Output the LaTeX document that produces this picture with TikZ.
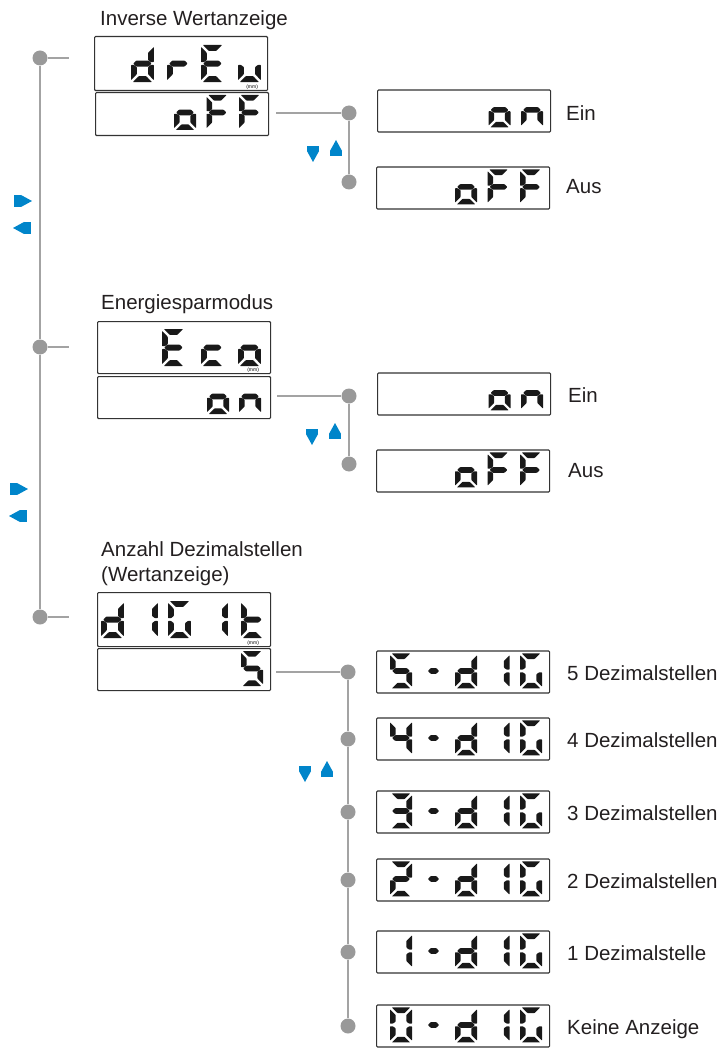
\documentclass[tikz,border=0pt]{standalone}
\usepackage{fontspec}
\setmainfont{Liberation Sans}
\usetikzlibrary{positioning}

\definecolor{linegray}{RGB}{163,163,163}
\definecolor{dotgray}{RGB}{153,153,153}
\definecolor{keyblue}{RGB}{0,133,202}
\definecolor{inkgray}{RGB}{35,31,32}

\tikzset{
  lcdbox/.style={draw=black!80, line width=1.1pt, rounded corners=1pt, inner sep=0pt, anchor=north west, minimum width=173pt},
  lcdseg/.style={fill=black!90, rounded corners=0.6pt},
  upchar/.style={xscale=1.04, yscale=1.06},
  conn/.style={draw=linegray, line width=1.6pt},
  dot/.style={circle, fill=dotgray, inner sep=0pt, minimum size=15pt},
  lbl/.style={font=\fontsize{20.5}{24}\selectfont, text=inkgray, inner sep=0pt, anchor=base west},
  mm/.style={font=\fontsize{5}{5}\selectfont, inner sep=0pt},
  keydown/.pic={\fill[keyblue] (0,0) rectangle (12,4.7); \fill[keyblue] (0,5.1) -- (12,5.1) -- (6,16) -- cycle;},
  keyup/.pic={\fill[keyblue] (6,0) -- (12,10.9) -- (0,10.9) -- cycle; \fill[keyblue] (0,11.3) rectangle (12,16);},
  keyright/.pic={\fill[keyblue] (0,0) rectangle (6.6,12); \fill[keyblue] (7,0) -- (18,6) -- (7,12) -- cycle;},
  keyleft/.pic={\fill[keyblue] (0,6) -- (11,0) -- (11,12) -- cycle; \fill[keyblue] (11.4,0) rectangle (18,12);}
}

% segments of one LCD digit, cell 22 x 35
\newcommand\lcdsega{\fill[lcdseg] (1.8,0) -- (20.2,0) -- (14.6,5.6) -- (7.4,5.6) -- cycle;}
\newcommand\lcdsegb{\fill[lcdseg] (22,1.8) -- (22,16.2) -- (19.2,16.2) -- (16.4,14.2) -- (16.4,7.4) -- cycle;}
\newcommand\lcdsegc{\fill[lcdseg] (22,18.8) -- (22,33.2) -- (16.4,27.6) -- (16.4,20.8) -- (19.2,18.8) -- cycle;}
\newcommand\lcdsegd{\fill[lcdseg] (1.8,35) -- (20.2,35) -- (14.6,29.4) -- (7.4,29.4) -- cycle;}
\newcommand\lcdsege{\fill[lcdseg] (0,18.8) -- (0,33.2) -- (5.6,27.6) -- (5.6,20.8) -- (2.8,18.8) -- cycle;}
\newcommand\lcdsegf{\fill[lcdseg] (0,1.8) -- (0,16.2) -- (2.8,16.2) -- (5.6,14.2) -- (5.6,7.4) -- cycle;}
\newcommand\lcdsegg{\fill[lcdseg] (2.2,17.5) -- (5,14.7) -- (17,14.7) -- (19.8,17.5) -- (17,20.3) -- (5,20.3) -- cycle;}
\newcommand\lcdsegm{\fill[lcdseg] (5.5,17.5) -- (8,14.7) -- (14,14.7) -- (16.5,17.5) -- (14,20.3) -- (8,20.3) -- cycle;}

% one LCD character: [options]{box corner}{offset}{segments}
\newcommand\lcdchar[4][]{%
  \edef\lcdsegs{#4}%
  \begin{scope}[shift={#2}, shift={#3}, #1]
    \foreach \s in \lcdsegs {\csname lcdseg\s\endcsname}
  \end{scope}}

\begin{document}
\begin{tikzpicture}[x=1pt, y=-1pt]
\useasboundingbox (0,0) rectangle (726,1048);

% main menu line
\node[dot] (m1) at (40,58) {};
\node[dot] (m2) at (40,347) {};
\node[dot] (m3) at (40,617) {};
\coordinate (s1) at (69,58);
\coordinate (s2) at (69,347);
\coordinate (s3) at (69,617);
\draw[conn] (m1) -- (m2) -- (m3);
\foreach \i in {1,2,3} \draw[conn] (m\i) -- (s\i);

\pic at (14,195) {keyright};
\pic at (13,222) {keyleft};
\pic at (10,483) {keyright};
\pic at (9,510) {keyleft};

% inverse value display
\node[lbl] (t1) at (100,26) {Inverse Wertanzeige};
\node[lcdbox, minimum height=54pt] (drev) at (94,36) {};
\node[lcdbox, minimum height=43pt] (drevv) at (95,92) {};
\lcdchar[upchar]{(drev.north west)}{(37,9)}{b,c,d,e,g}
\lcdchar[upchar]{(drev.north west)}{(73,9)}{e,g}
\lcdchar[upchar]{(drev.north west)}{(107,9)}{a,d,e,f,g}
\lcdchar[upchar]{(drev.north west)}{(144,9)}{c,d,e}
\node[mm] (mm1) at ([xshift=-16pt,yshift=3.5pt]drev.south east) {(mm)};
\lcdchar{(drevv.north west)}{(79,3)}{c,d,e,g}
\lcdchar{(drevv.north west)}{(111.5,3)}{a,e,f,g}
\lcdchar{(drevv.north west)}{(144,3)}{a,e,f,g}

\node[dot] (e11) at (349,113) {};
\node[dot] (e12) at (349,182) {};
\coordinate (c1) at (276,113);
\draw[conn] (c1) -- (e11) -- (e12);
\pic at (307,146) {keydown};
\pic at (330,140) {keyup};

\node[lcdbox, anchor=west, minimum height=42pt] (on1) at (377,111) {};
\lcdchar{(on1.north west)}{(111.5,3)}{c,d,e,g}
\lcdchar{(on1.north west)}{(144,3)}{c,e,g}
\node[lbl] (ein1) at (566,121) {Ein};
\node[lcdbox, anchor=west, minimum height=42pt] (off1) at (376,188) {};
\lcdchar{(off1.north west)}{(79,3)}{c,d,e,g}
\lcdchar{(off1.north west)}{(111.5,3)}{a,e,f,g}
\lcdchar{(off1.north west)}{(144,3)}{a,e,f,g}
\node[lbl] (aus1) at (566,194) {Aus};

% energy saving mode
\node[lbl] (t2) at (101,309) {Energiesparmodus};
\node[lcdbox, minimum height=52pt] (eco) at (97,321) {};
\node[lcdbox, minimum height=42pt] (ecov) at (97,376) {};
\lcdchar[upchar]{(eco.north west)}{(65,8)}{a,d,e,f,g}
\lcdchar[upchar]{(eco.north west)}{(104,8)}{d,e,g}
\lcdchar[upchar]{(eco.north west)}{(141,8)}{c,d,e,g}
\node[mm] (mm2) at ([xshift=-18pt,yshift=3.5pt]eco.south east) {(mm)};
\lcdchar{(ecov.north west)}{(110,3)}{c,d,e,g}
\lcdchar{(ecov.north west)}{(142,3)}{c,e,g}

\node[dot] (e21) at (349,396) {};
\node[dot] (e22) at (349,464) {};
\coordinate (c2) at (277,396);
\draw[conn] (c2) -- (e21) -- (e22);
\pic at (306,429) {keydown};
\pic at (329,423) {keyup};

\node[lcdbox, anchor=west, minimum height=42pt] (on2) at (377,394) {};
\lcdchar{(on2.north west)}{(111.5,3)}{c,d,e,g}
\lcdchar{(on2.north west)}{(144,3)}{c,e,g}
\node[lbl] (ein2) at (568,402) {Ein};
\node[lcdbox, anchor=west, minimum height=42pt] (off2) at (376,471) {};
\lcdchar{(off2.north west)}{(79,3)}{c,d,e,g}
\lcdchar{(off2.north west)}{(111.5,3)}{a,e,f,g}
\lcdchar{(off2.north west)}{(144,3)}{a,e,f,g}
\node[lbl] (aus2) at (568,477) {Aus};

% decimal places
\node[lbl] (t3) at (101,556) {Anzahl Dezimalstellen};
\node[lbl] (t3b) at (101,581) {(Wertanzeige)};
\node[lcdbox, minimum height=54pt] (dig) at (97,592) {};
\node[lcdbox, minimum height=42pt] (digv) at (97,648) {};
\lcdchar[upchar]{(dig.north west)}{(4,9)}{b,c,d,e,g}
\lcdchar[upchar]{(dig.north west)}{(38,9)}{b,c}
\lcdchar[upchar]{(dig.north west)}{(71,9)}{a,c,d,e,f}
\lcdchar[upchar]{(dig.north west)}{(108,9)}{b,c}
\lcdchar[upchar]{(dig.north west)}{(144,9)}{d,e,f,g}
\node[mm] (mm3) at ([xshift=-18pt,yshift=3.5pt]dig.south east) {(mm)};
\lcdchar{(digv.north west)}{(144,3)}{a,c,d,f,g}

\coordinate (c3) at (276,672);
\foreach \n/\y/\first/\lab in {1/672/{a,c,d,f,g}/5 Dezimalstellen, 2/739/{b,c,f,g}/4 Dezimalstellen,
    3/812/{a,b,c,d,g}/3 Dezimalstellen, 4/880/{a,b,d,e,g}/2 Dezimalstellen,
    5/952/{b,c}/1 Dezimalstelle, 6/1026/{a,b,c,d,e,f}/Keine Anzeige} {
  \node[dot] (p\n) at (348,\y) {};
  \node[lcdbox, anchor=west, minimum height=42pt] (r\n) at (376,\y) {};
  \lcdchar{(r\n.north west)}{(14,3)}{\first}
  \lcdchar{(r\n.north west)}{(46.5,3)}{m}
  \lcdchar{(r\n.north west)}{(79,3)}{b,c,d,e,g}
  \lcdchar{(r\n.north west)}{(111.5,3)}{b,c}
  \lcdchar{(r\n.north west)}{(144,3)}{a,c,d,e,f}
  \node[lbl] (l\n) at (567,\y+8) {\lab};
}
\draw[conn] (c3) -- (p1) -- (p2) -- (p3) -- (p4) -- (p5) -- (p6);
\pic at (299,766) {keydown};
\pic at (321,761) {keyup};
\end{tikzpicture}
\end{document}
